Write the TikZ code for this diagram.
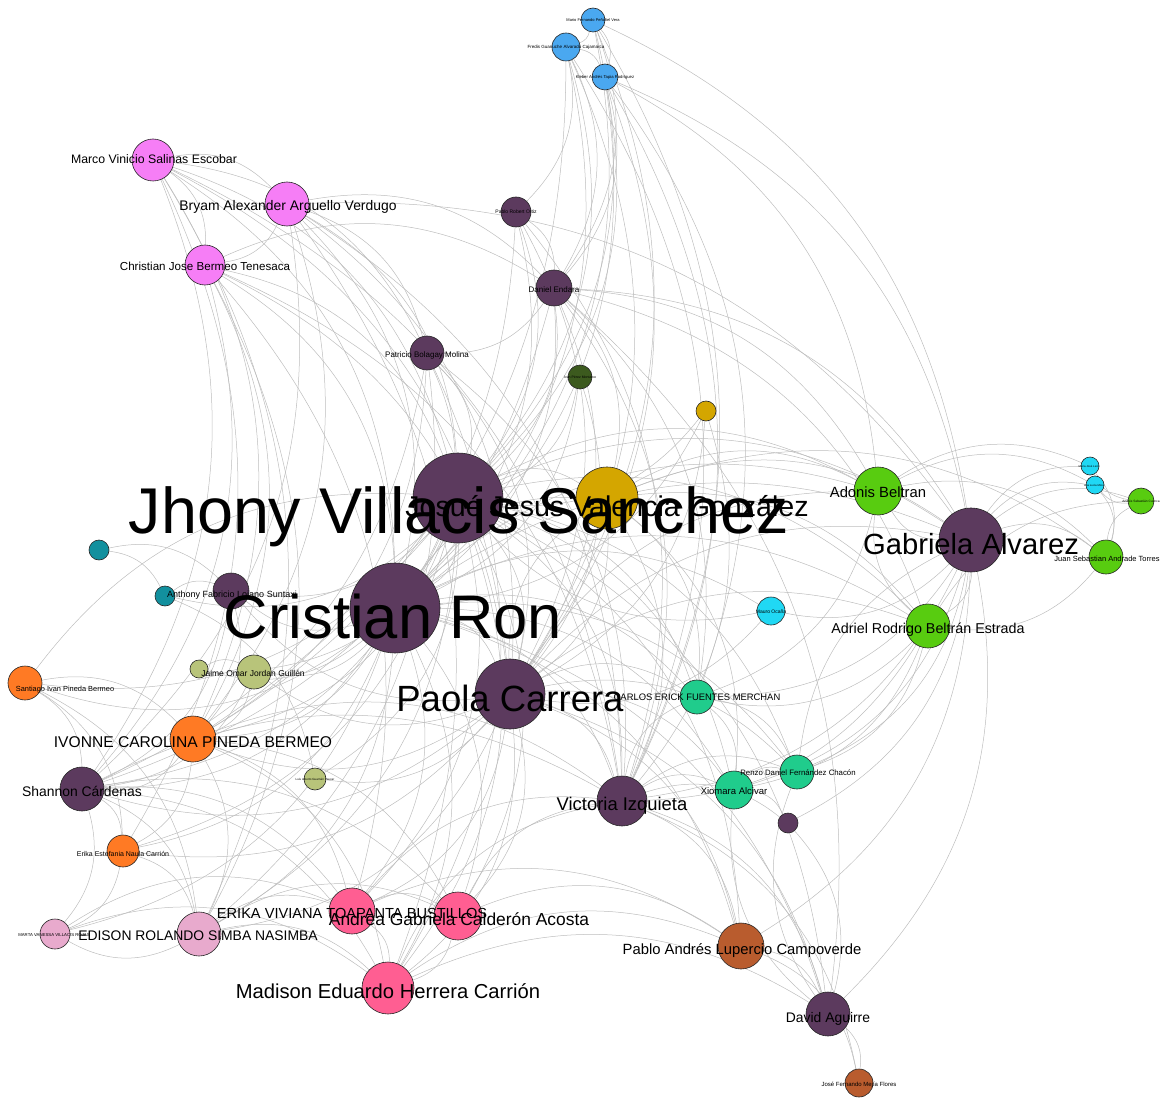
\documentclass[tikz,border=0pt]{standalone}
\usepackage{fontspec}
\setmainfont{Liberation Sans}
\pgfdeclarelayer{links}
\pgfsetlayers{links,main}
\begin{document}
\begin{tikzpicture}[x=1pt,y=-1pt,
  vert/.style={circle,draw=black!85,line width=0.6pt,inner sep=0pt},
  lbl/.style={anchor=base,inner sep=0pt,text=black},
  link/.style={draw=black!26,line width=0.5pt,bend left=28}]
\definecolor{cpur}{HTML}{5C3A5E}
\definecolor{cgold}{HTML}{D4A600}
\definecolor{cblue}{HTML}{4AA8F0}
\definecolor{cmag}{HTML}{F67EF6}
\definecolor{cdkg}{HTML}{3C5A1E}
\definecolor{cgrn}{HTML}{58CC10}
\definecolor{ccyan}{HTML}{20D8F4}
\definecolor{cteal}{HTML}{12909E}
\definecolor{coliv}{HTML}{B8C47A}
\definecolor{corg}{HTML}{FF7A24}
\definecolor{cmint}{HTML}{20CC8C}
\definecolor{cpink}{HTML}{FF5E92}
\definecolor{clpk}{HTML}{E8AACD}
\definecolor{cbrn}{HTML}{B95C2E}
\useasboundingbox (0,0) rectangle (1169,1099);

% vertices: name, x, y, diameter, colour
\newcommand\gvert[5]{\node[vert,minimum size=#4pt,fill=#5] (#1) at (#2,#3) {};}
\gvert{b1}{593}{20}{24}{cblue}
\gvert{b2}{566}{47}{28}{cblue}
\gvert{b3}{605}{77}{26}{cblue}
\gvert{mv}{153}{160}{42}{cmag}
\gvert{ba}{287}{204}{44}{cmag}
\gvert{cj}{205}{265}{40}{cmag}
\gvert{po}{516}{212}{30}{cpur}
\gvert{de}{554}{288}{36}{cpur}
\gvert{pb}{427}{353}{34}{cpur}
\gvert{dg}{580}{377}{24}{cdkg}
\gvert{gs}{706}{411}{20}{cgold}
\gvert{jv}{458}{498}{90}{cpur}
\gvert{jj}{607}{498}{62}{cgold}
\gvert{ab}{878}{491}{48}{cgrn}
\gvert{ga}{971}{540}{64}{cpur}
\gvert{c1}{1090}{466}{18}{ccyan}
\gvert{c2}{1095}{485}{18}{ccyan}
\gvert{g1}{1141}{501}{26}{cgrn}
\gvert{js}{1106}{557}{34}{cgrn}
\gvert{ar}{928}{626}{44}{cgrn}
\gvert{mo}{771}{611}{28}{ccyan}
\gvert{t1}{99}{550}{20}{cteal}
\gvert{t2}{165}{596}{20}{cteal}
\gvert{af}{231}{591}{36}{cpur}
\gvert{cr}{395}{608}{90}{cpur}
\gvert{o1}{199}{669}{18}{coliv}
\gvert{jo}{254}{672}{34}{coliv}
\gvert{sp}{25}{683}{34}{corg}
\gvert{pc}{510}{694}{70}{cpur}
\gvert{ce}{697}{697}{34}{cmint}
\gvert{ic}{193}{739}{46}{corg}
\gvert{o2}{315}{779}{22}{coliv}
\gvert{sc}{82}{789}{44}{cpur}
\gvert{vi}{622}{801}{50}{cpur}
\gvert{rf}{797}{772}{34}{cmint}
\gvert{xa}{734}{790}{38}{cmint}
\gvert{sm}{788}{823}{20}{cpur}
\gvert{ee}{123}{851}{32}{corg}
\gvert{ev}{352}{911}{46}{cpink}
\gvert{ag}{458}{916}{48}{cpink}
\gvert{es}{199}{934}{44}{clpk}
\gvert{mt}{55}{934}{30}{clpk}
\gvert{mh}{388}{988}{52}{cpink}
\gvert{pl}{741}{946}{46}{cbrn}
\gvert{da}{828}{1014}{44}{cpur}
\gvert{jf}{859}{1083}{28}{cbrn}

% links, kept on a layer below the vertices
\begin{pgfonlayer}{links}
\foreach \a/\b in {
  b1/b2,b2/b3,b1/b3,b2/jv,b2/cr,b2/pc,b3/jv,b3/cr,b3/pc,b3/ga,b1/jv,b1/cr,b3/vi,b2/de,b1/pc,
  b1/vi,b2/vi,b3/de,b1/de,b2/po,b3/ab,b1/ga,b2/ic,b3/ce,
  mv/ba,mv/cj,ba/cj,mv/jv,mv/cr,mv/pc,mv/sc,ba/jv,ba/cr,ba/pc,ba/de,ba/pb,cj/jv,cj/cr,cj/pc,cj/vi,mv/ic,cj/sc,ba/vi,
  mv/es,mv/ee,cj/ic,cj/es,ba/ic,ba/sc,ba/mh,cj/ev,mv/pb,ba/ga,cj/de,mv/vi,
  po/de,po/jv,po/cr,po/pc,po/vi,po/ic,
  de/jv,de/cr,de/pc,de/vi,de/ga,de/ab,de/pb,de/jj,de/da,de/ce,de/sc,de/ar,
  pb/jv,pb/cr,pb/pc,pb/vi,pb/ic,pb/sc,pb/es,pb/mh,
  dg/jv,dg/cr,dg/pc,gs/jv,gs/cr,gs/pc,gs/vi,
  jv/jj,jv/cr,jv/pc,jv/vi,jv/ga,jv/ab,jv/ar,jv/ce,jv/sc,jv/ic,jv/af,jv/ag,jv/ev,jv/mh,jv/xa,jv/rf,jv/pl,jv/da,jv/es,jv/jo,jv/ee,jv/sp,jv/t2,jv/o2,
  cr/pc,cr/vi,cr/ga,cr/ab,cr/ar,cr/ce,cr/sc,cr/ic,cr/af,cr/jo,cr/o1,cr/ag,cr/ev,cr/mh,cr/es,cr/ee,cr/xa,cr/rf,cr/pl,cr/da,cr/jj,cr/mo,cr/sp,cr/mt,
  pc/vi,pc/ga,pc/ab,pc/ar,pc/ce,pc/sc,pc/ic,pc/ag,pc/ev,pc/mh,pc/es,pc/xa,pc/rf,pc/pl,pc/da,pc/jj,pc/af,pc/jo,pc/o2,pc/ee,
  jj/ga,jj/ab,jj/ar,jj/vi,jj/ce,jj/pc,jj/xa,jj/js,
  ga/ab,ga/ar,ga/js,ga/c1,ga/c2,ga/g1,ga/vi,ga/ce,ga/da,ga/pl,ga/xa,ga/rf,ga/mo,ga/sm,
  js/g1,c1/js,c2/js,ab/js,js/ar,g1/c1,g1/c2,ab/c1,ab/c2,ar/g1,
  ar/ab,ar/ce,ar/vi,mo/jv,mo/pc,ab/ce,ar/rf,ar/xa,
  t1/t2,t2/af,t1/af,t2/o2,o1/jo,jo/sc,jo/ic,af/ic,af/sc,
  sp/ic,sp/sc,sp/jv,sp/es,sp/ee,
  ic/sc,ic/ee,ic/es,ic/mh,ic/ev,ic/ag,ic/vi,
  sc/ee,sc/es,sc/mt,sc/ev,sc/ag,sc/mh,sc/vi,
  ee/es,ee/mt,es/mt,es/mh,es/ev,es/ag,mt/mh,mt/ev,
  ev/ag,ev/mh,ag/mh,ev/vi,ag/vi,mh/vi,
  vi/ce,vi/xa,vi/rf,vi/pl,vi/da,vi/sm,
  ce/xa,ce/rf,xa/rf,xa/sm,rf/ga,
  pl/da,pl/jf,da/jf,da/xa,da/rf,sm/da,mh/pl,ag/pl,ev/pl,mh/da,vi/jf}
  \draw[link] (\a) to (\b);
\end{pgfonlayer}

% labels: name, x, baseline y, size, text
\newcommand\glabel[5]{\node[lbl,font=\fontsize{#4}{#4}\selectfont] (#1) at (#2,#3) {#5};}
\glabel{l-b1}{593}{21.5}{4}{Mario Fernando Peñafiel Vera}
\glabel{l-b2}{566}{48.5}{4.5}{Fredis Guanuche Alvarado Cajamarca}
\glabel{l-b3}{605}{78.5}{4.2}{Kleber Andrés Tapia Rodríguez}
\glabel{l-mv}{154}{164}{12.3}{Marco Vinicio Salinas Escobar}
\glabel{l-ba}{288}{211}{13.9}{Bryam Alexander Arguello Verdugo}
\glabel{l-cj}{205}{270}{11.6}{Christian Jose Bermeo Tenesaca}
\glabel{l-po}{516}{214}{5}{Pablo Robert Ortiz}
\glabel{l-de}{554}{292}{8}{Daniel Endara}
\glabel{l-pb}{427}{357}{8}{Patricio Bolagay Molina}
\glabel{l-dg}{580}{378.5}{3.5}{Iván Pérez Montalvo}
\glabel{l-jv}{459}{533}{64.7}{Jhony Villacis Sanchez}
\glabel{l-jj}{607}{516}{28.6}{Josué Jesús Valencia González}
\glabel{l-ab}{878}{497}{14.8}{Adonis Beltran}
\glabel{l-ga}{971}{554}{29.2}{Gabriela Alvarez}
\glabel{l-c1}{1089}{467}{2.8}{María José León}
\glabel{l-c2}{1094}{486}{2.8}{Ana Lucía Mora}
\glabel{l-g1}{1141}{502}{3.2}{Andrés Sebastián Cuenca}
\glabel{l-js}{1107}{561}{7.5}{Juan Sebastian Andrade Torres}
\glabel{l-ar}{928}{633}{14.3}{Adriel Rodrigo Beltrán Estrada}
\glabel{l-mo}{771}{613}{5}{Mauro Ocaña}
\glabel{l-af}{232}{597}{9}{Anthony Fabricio Lojano Suntaxi}
\glabel{l-cr}{393}{638}{61.5}{Cristian Ron}
\glabel{l-jo}{253}{676}{8.5}{Jaime Omar Jordan Guillén}
\glabel{l-sp}{65}{691}{7.4}{Santiago Ivan Pineda Bermeo}
\glabel{l-pc}{510}{711}{36.5}{Paola Carrera}
\glabel{l-ce}{697}{700}{9.4}{CARLOS ERICK FUENTES MERCHAN}
\glabel{l-ic}{193}{747}{15.6}{IVONNE CAROLINA PINEDA BERMEO}
\glabel{l-o2}{315}{780}{3}{Luis Alberto Guamán Paucar}
\glabel{l-sc}{82}{796}{13.9}{Shannon Cárdenas}
\glabel{l-vi}{622}{810}{18.4}{Victoria Izquieta}
\glabel{l-rf}{798}{775}{7.8}{Renzo Daniel Fernández Chacón}
\glabel{l-xa}{734}{794}{9.5}{Xiomara Alcivar}
\glabel{l-ee}{123}{856}{7}{Erika Estefania Naula Carrión}
\glabel{l-ev}{352}{918}{14.6}{ERIKA VIVIANA TOAPANTA BUSTILLOS}
\glabel{l-ag}{459}{925}{17.4}{Andrea Gabriela Calderón Acosta}
\glabel{l-es}{198}{940}{13.9}{EDISON ROLANDO SIMBA NASIMBA}
\glabel{l-mt}{54}{936}{4.3}{MARTA VANESSA VILLACIS ROJAS}
\glabel{l-mh}{388}{998}{20.2}{Madison Eduardo Herrera Carrión}
\glabel{l-pl}{742}{954}{14.8}{Pablo Andrés Lupercio Campoverde}
\glabel{l-da}{828}{1022}{13.9}{David Aguirre}
\glabel{l-jf}{859}{1086}{6}{José Fernando Mejía Flores}
\end{tikzpicture}
\end{document}
